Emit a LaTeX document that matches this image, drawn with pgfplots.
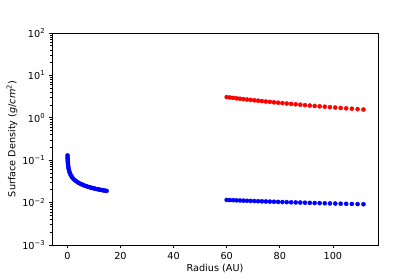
\documentclass[border=0pt]{standalone}
\usepackage{fontspec}
\setmainfont{DejaVu Sans}
\usepackage{pgfplots}
\pgfplotsset{compat=1.18}
\begin{document}
\begin{tikzpicture}
\path[use as bounding box] (0bp,0bp) rectangle (420bp,280bp);
\begin{axis}[at={(52bp,35bp)}, anchor=south west, scale only axis,
  width=326bp, height=212bp,
  ymode=log, xmin=-5.8, xmax=117, ymin=1e-3, ymax=1e2,
  xtick={0,20,40,60,80,100},
  ytick={1e-3,1e-2,1e-1,1e0,1e1,1e2},
  yticklabels={10\textsuperscript{−3},10\textsuperscript{−2},10\textsuperscript{−1},10\textsuperscript{0},10\textsuperscript{1},10\textsuperscript{2}},
  /pgf/number format/assume math mode=true,
  tick align=outside, xtick pos=left, ytick pos=left,
  major tick length=3.4bp, minor tick length=2bp,
  tick style={black, line width=0.7bp},
  axis line style={line width=0.78bp},
  every tick label/.append style={font=\fontsize{9.7}{11}\selectfont},
  label style={font=\fontsize{9.7}{11}\selectfont},
  xlabel={Radius (AU)},
  ylabel={Surface Density (\textit{g}/\textit{cm}\textsuperscript{2})},
  xlabel style={at={(axis description cs:0.5,-0.1085)}, anchor=center},
  ylabel style={at={(axis description cs:-0.1227,0.5)}, anchor=center},
]
\addplot[only marks, mark=*, mark size=2.05bp, color=blue] coordinates {
(0.06,0.1296) (0.08,0.1172) (0.10,0.1084) (0.13,0.0989) (0.17,0.0900)
(0.22,0.0823) (0.29,0.0747) (0.38,0.0679) (0.5,0.0617) (0.65,0.0563)
(0.85,0.0513) (1.1,0.0468) (1.4,0.0430) (1.75,0.0398) (2.2,0.0367)
(2.7,0.0342) (3.3,0.0319) (4.0,0.0298) (4.6,0.0284) (5.2,0.0272)
(5.8,0.0262) (6.4,0.0253) (7.0,0.0245) (7.6,0.0238) (8.2,0.0232)
(8.8,0.0226) (9.4,0.0221) (10.0,0.0216) (10.6,0.0212) (11.2,0.0208)
(11.8,0.0204) (12.4,0.0201) (13.0,0.0197) (13.6,0.0194) (14.2,0.0191)
(14.8,0.0189)
};
\addplot[only marks, mark=*, mark size=2.05bp, color=red] coordinates {
(60.00,3.080) (61.21,3.014) (62.45,2.949) (63.71,2.885) (65.00,2.823)
(66.31,2.762) (67.65,2.702) (69.02,2.644) (70.41,2.587) (71.83,2.531)
(73.28,2.477) (74.76,2.423) (76.27,2.371) (77.81,2.320) (79.38,2.270)
(80.99,2.221) (82.62,2.173) (84.29,2.126) (85.99,2.080) (87.73,2.035)
(89.50,1.991) (91.31,1.948) (93.15,1.906) (95.03,1.865) (96.95,1.825)
(98.91,1.786) (100.91,1.747) (102.95,1.709) (105.02,1.673) (107.15,1.637)
(109.31,1.601) (111.52,1.567)
};
\addplot[only marks, mark=*, mark size=2.05bp, color=blue] coordinates {
(60.00,0.011560) (61.21,0.011473) (62.45,0.011387) (63.71,0.011301) (65.00,0.011216)
(66.31,0.011132) (67.65,0.011048) (69.02,0.010965) (70.41,0.010883) (71.83,0.010801)
(73.28,0.010720) (74.76,0.010639) (76.27,0.010559) (77.81,0.010480) (79.38,0.010401)
(80.99,0.010323) (82.62,0.010245) (84.29,0.010168) (85.99,0.010092) (87.73,0.010016)
(89.50,0.009941) (91.31,0.009866) (93.15,0.009792) (95.03,0.009718) (96.95,0.009645)
(98.91,0.009573) (100.91,0.009501) (102.95,0.009429) (105.02,0.009358) (107.15,0.009288)
(109.31,0.009218) (111.52,0.009149)
};
\end{axis}
\end{tikzpicture}
\end{document}
